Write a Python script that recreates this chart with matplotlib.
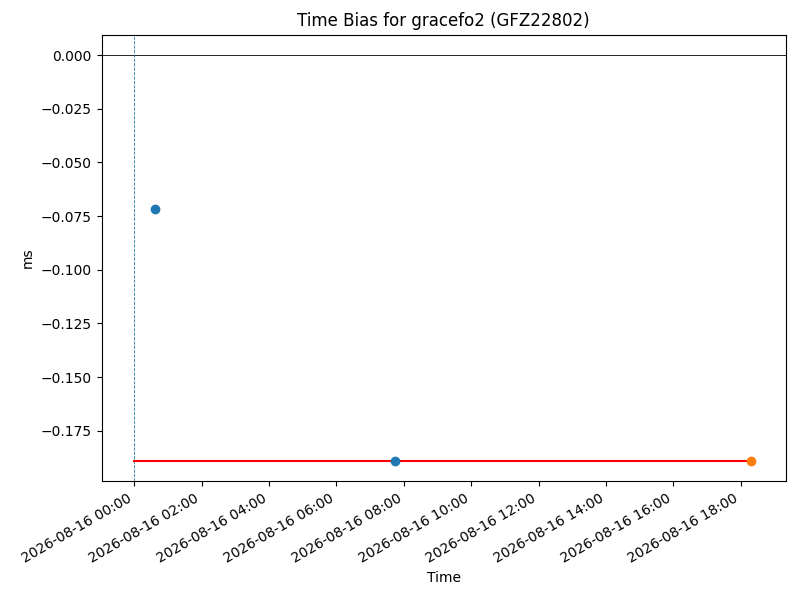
"""Time bias plot for one satellite."""

import numpy as np
import pandas as pd
import matplotlib
matplotlib.use("Agg")
import matplotlib.pyplot as plt
import matplotlib.dates as mdates

sat = "gracefo2"
cpf = "GFZ22802"

startTime = pd.Timestamp("2026-08-16 00:00")
biasTimes = pd.to_datetime(["2026-08-16 00:37", "2026-08-16 07:44"])
biasVals = [-0.0719, -0.1890]
lastTime = pd.to_datetime(["2026-08-16 18:18"])
lastVal = [-0.1890]
fitTimes = pd.to_datetime(["2026-08-16 00:00", "2026-08-16 18:18"])
fitVals = [-0.1890, -0.1890]
xRange = pd.to_datetime(["2026-08-15 23:02", "2026-08-16 19:20"])

fig, ax = plt.subplots(figsize=(8, 6), dpi=100)

ax.axhline(0, color="k", lw=0.6)
ax.axvline(startTime, color="C0", ls="--", lw=0.6)
ax.plot(fitTimes, fitVals, color="red", lw=1.5)
ax.plot(biasTimes, biasVals, "o", color="C0")
ax.plot(lastTime, lastVal, "o", color="C1")

ax.set_xlim(xRange[0], xRange[1])
ax.xaxis.set_major_locator(mdates.HourLocator(interval=2))
ax.xaxis.set_major_formatter(mdates.DateFormatter("%Y-%m-%d %H:%M"))
fig.autofmt_xdate()

ax.set_xlabel("Time")
ax.set_ylabel("ms")
ax.set_title("Time Bias for %s (%s)" % (sat, cpf))

fig.subplots_adjust(left=0.127, right=0.982, top=0.942, bottom=0.198)
fig.savefig("out.png")
